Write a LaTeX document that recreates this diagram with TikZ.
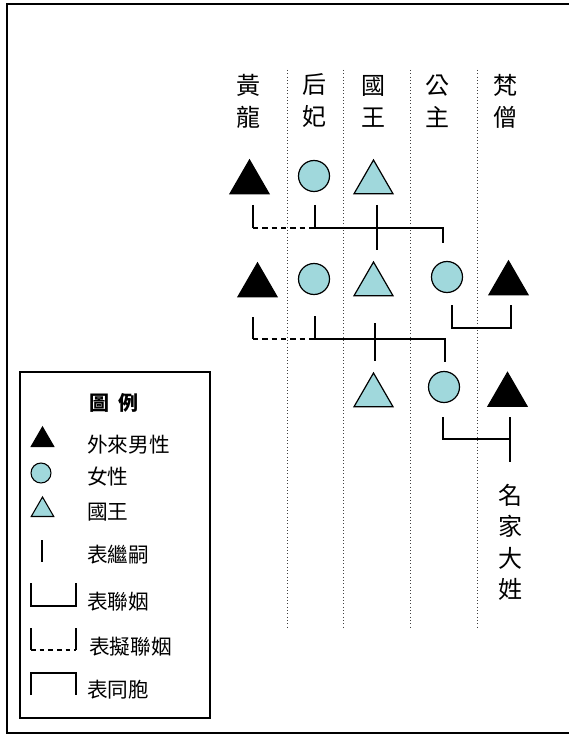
\documentclass[tikz,border=0pt]{standalone}
\usepackage{fontspec}
\newfontfamily\cjk{Noto Sans CJK TC}
\usetikzlibrary{shapes.geometric}
\definecolor{lblue}{RGB}{160,216,220}
\tikzset{
  tri/.style={regular polygon, regular polygon sides=3, minimum size=45*0.75pt, inner sep=0pt, draw=black, line width=0.9pt},
  btri/.style={tri, fill=black},
  ctri/.style={tri, fill=lblue},
  circ/.style={circle, minimum size=31*0.75pt, inner sep=0pt, draw=black, line width=0.9pt, fill=lblue},
  ltri/.style={regular polygon, regular polygon sides=3, minimum size=26*0.75pt, inner sep=0pt, draw=black, line width=0.8pt},
  lcirc/.style={circle, minimum size=20*0.75pt, inner sep=0pt, draw=black, line width=0.8pt, fill=lblue},
  head/.style={font=\cjk\fontsize{18}{24}\selectfont, align=center, inner sep=0pt},
  ltext/.style={font=\cjk\fontsize{15.5}{17}\selectfont, anchor=west, inner sep=0pt},
  link/.style={line width=1.1pt},
  dlink/.style={line width=1.1pt, dash pattern=on 4pt off 3pt},
  guide/.style={line width=0.5pt, dotted, black!75},
}
\begin{document}
\begin{tikzpicture}[x=0.75pt, y=-0.75pt]
\useasboundingbox (0,0) rectangle (568,734);
% outer frame
\draw[line width=1.4pt] (7,4) rectangle (575,733);
% guides
\foreach \gx/\gn in {287.7/g1, 343.3/g2, 410.3/g3, 477/g4}{
  \coordinate (\gn t) at (\gx,70);
  \coordinate (\gn b) at (\gx,627);
  \draw[guide] (\gn t) -- (\gn b);
}
% headers
\node[head] (hHL) at (248,101) {黃\\龍};
\node[head] (hHF) at (314,101) {后\\妃};
\node[head] (hGW) at (373,101) {國\\王};
\node[head] (hGZ) at (437,101) {公\\主};
\node[head] (hFS) at (505,101) {梵\\僧};
% row 1
\node[btri] (a1) at (249.5,182.5) {};
\node[circ] (b1) at (314,176) {};
\node[ctri] (c1) at (373.5,182.5) {};
% row 2
\node[btri] (a2) at (257.5,285.5) {};
\node[circ] (b2) at (314,279) {};
\node[ctri] (c2) at (373.5,284.5) {};
\node[circ] (d2) at (447,277) {};
\node[btri] (e2) at (508.5,283.5) {};
% row 3
\node[ctri] (c3) at (373.5,395.5) {};
\node[circ] (d3) at (444,387) {};
\node[btri] (e3) at (507.5,395) {};
% row 1 links
\coordinate (r1a) at (253,205);
\coordinate (r1b) at (315,205);
\coordinate (r1m) at (315,228);
\coordinate (r1e) at (443,243);
\coordinate (r1c) at (377,205);
\coordinate (r1d) at (377,250);
\draw[link] (r1a) -- (253,228);
\draw[dlink] (253,228) -- (r1m);
\draw[link] (r1b) -- (r1m) -| (r1e);
\draw[link] (r1c) -- (r1d);
% row 2 links
\coordinate (r2a) at (253,317);
\coordinate (r2b) at (315,316);
\coordinate (r2m) at (315,339);
\coordinate (r2e) at (445,362);
\coordinate (r2c) at (375,323);
\coordinate (r2d) at (375,361);
\draw[link] (r2a) -- (253,339);
\draw[dlink] (253,339) -- (r2m);
\draw[link] (r2b) -- (r2m) -| (r2e);
\draw[link] (r2c) -- (r2d);
% 公主-梵僧 marriage
\coordinate (m2a) at (452,305);
\coordinate (m2b) at (511,305);
\draw[link] (m2a) |- (511,328) -- (m2b);
% row 3 marriage
\coordinate (m3a) at (443,417);
\coordinate (m3b) at (510,417);
\coordinate (m3c) at (510,462);
\draw[link] (m3a) |- (510,439);
\draw[link] (m3b) -- (m3c);
\node[head, font=\cjk\fontsize{18}{23.6}\selectfont, anchor=north] (mj) at (510,484) {名\\家\\大\\姓};
% legend
\draw[line width=1.1pt] (20,372) rectangle (210,718);
\node[font=\cjk\bfseries\fontsize{15}{17}\selectfont, inner sep=0pt] (lt) at (114,403) {圖\hspace{0.45em}例};
\node[ltri, fill=black] (l1) at (42.5,440) {};
\node[ltext] (t1) at (87,445) {外來男性};
\node[lcirc] (l2) at (41,473) {};
\node[ltext] (t2) at (87,477) {女性};
\node[ltri, fill=lblue] (l3) at (42.5,510) {};
\node[ltext] (t3) at (87,512) {國王};
\coordinate (l4a) at (42,540);
\coordinate (l4b) at (42,562);
\draw[line width=0.9pt] (l4a) -- (l4b);
\node[ltext] (t4) at (87,555) {表繼嗣};
\coordinate (l5a) at (31,583);
\coordinate (l5b) at (76,583);
\draw[line width=0.9pt] (l5a) |- (76,606) -- (l5b);
\node[ltext] (t5) at (87,602) {表聯姻};
\coordinate (l6a) at (31,628);
\coordinate (l6b) at (76,628);
\draw[line width=0.9pt] (l6a) -- (31,650);
\draw[line width=0.9pt, dash pattern=on 3.5pt off 3pt] (31,650) -- (76,650);
\draw[line width=0.9pt] (76,650) -- (l6b);
\node[ltext] (t6) at (89,647) {表擬聯姻};
\coordinate (l7a) at (31,695);
\coordinate (l7b) at (76,695);
\draw[line width=0.9pt] (l7a) |- (76,673) -- (l7b);
\node[ltext] (t7) at (87,690) {表同胞};
\end{tikzpicture}
\end{document}
